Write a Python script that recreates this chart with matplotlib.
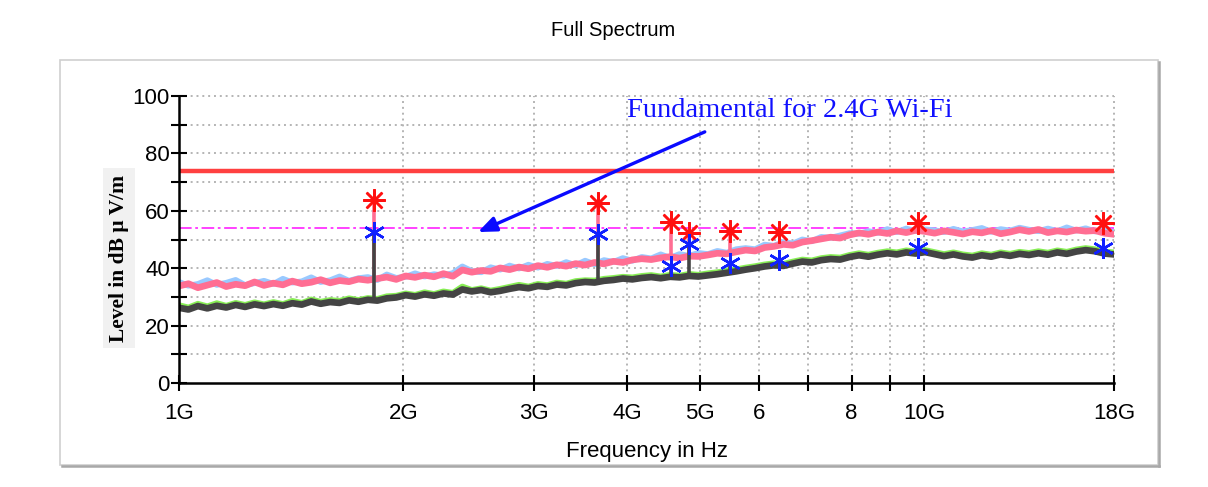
import numpy as np
import matplotlib
matplotlib.use('Agg')
import matplotlib.pyplot as plt
from matplotlib.patches import Rectangle
from matplotlib.lines import Line2D

# ---------------- data ----------------
freq_start_hz = 1e9
freq_stop_hz = 18e9

# peak trace (pink, horizontal) and its companion (light blue)
pink = [33.8, 34.6, 33.2, 34.1, 35.0, 33.6, 34.4, 33.9, 35.2, 34.0,
        34.8, 34.2, 35.5, 34.6, 35.1, 36.0, 34.9, 35.7, 35.3, 36.2,
        35.8, 36.4, 36.9, 36.1, 37.3, 36.8, 37.6, 37.0, 38.1, 37.2,
        39.4, 38.6, 39.2, 38.9, 40.1, 39.5, 40.4, 39.8, 40.9, 40.3,
        41.2, 40.7, 41.6, 41.1, 42.0, 41.5, 42.4, 42.0, 42.9, 43.3,
        43.0, 43.6, 44.0, 43.5, 44.2, 44.1, 44.6, 45.2, 45.0, 45.7,
        46.3, 46.0, 47.2, 47.6, 48.3, 48.0, 49.1, 49.6, 50.2, 50.8,
        50.5, 51.6, 52.3, 51.8, 52.6, 52.1, 53.0, 52.4, 53.2, 52.8,
        52.2, 53.0, 52.5, 51.9, 52.7, 52.3, 53.1, 52.0, 52.6, 53.4,
        52.8, 53.5, 52.4, 53.0, 52.6, 53.3, 52.9, 53.1, 52.2, 51.8]
light_blue = [35.2, 33.9, 34.5, 35.8, 34.2, 34.9, 35.9, 34.1, 34.8, 35.6,
              34.5, 36.3, 35.0, 35.4, 36.8, 35.2, 35.8, 37.1, 35.6, 36.5,
              36.9, 35.9, 37.8, 36.6, 37.0, 38.2, 37.1, 37.9, 37.4, 38.3,
              40.6, 39.0, 38.6, 40.3, 39.5, 40.9, 39.9, 41.2, 40.2, 41.5,
              40.8, 42.1, 41.0, 42.6, 41.4, 42.8, 42.2, 43.5, 42.6, 43.9,
              43.4, 44.8, 43.6, 44.9, 44.3, 45.3, 44.9, 46.0, 45.4, 46.6,
              47.0, 46.6, 48.2, 47.8, 49.1, 48.6, 50.0, 49.4, 50.9, 50.6,
              51.4, 52.2, 52.0, 52.9, 52.3, 53.6, 52.6, 53.8, 52.9, 53.5,
              53.2, 52.6, 53.7, 52.8, 53.3, 54.0, 52.7, 53.6, 53.1, 54.1,
              53.4, 52.9, 53.8, 52.9, 54.2, 53.1, 53.9, 52.8, 53.5, 52.4]

# average trace (dark grey) and its companion (green)
dark = [26.2, 25.6, 26.8, 26.0, 26.9, 26.3, 27.2, 26.5, 27.4, 26.8,
        27.5, 26.9, 27.8, 27.3, 28.4, 27.6, 28.2, 27.9, 28.8, 28.3,
        29.0, 28.7, 29.5, 29.8, 30.6, 30.1, 30.9, 30.4, 31.2, 30.8,
        32.6, 31.9, 32.4, 31.6, 32.1, 32.8, 33.4, 33.0, 33.8, 33.5,
        34.3, 34.0, 34.8, 35.2, 35.0, 35.6, 35.9, 36.4, 36.1, 36.6,
        36.9, 36.5, 37.0, 36.8, 37.3, 37.1, 37.5, 37.9, 38.4, 38.9,
        39.5, 40.0, 40.6, 41.0, 40.8, 41.6, 42.3, 42.0, 42.8, 43.2,
        43.0, 43.9, 44.5, 44.0, 44.7, 45.2, 44.8, 45.5, 45.1, 45.6,
        44.9, 44.2, 44.8, 44.1, 43.7, 44.5, 44.0, 44.8, 44.3, 45.0,
        44.6, 45.2, 44.7, 45.5, 45.0, 45.8, 46.3, 45.9, 45.1, 44.8]
green = [27.1, 26.3, 27.6, 26.7, 27.8, 26.9, 27.9, 27.2, 28.1, 27.4,
         28.2, 27.5, 28.6, 27.9, 29.1, 28.3, 28.9, 28.6, 29.5, 28.9,
         29.6, 29.3, 30.2, 30.4, 31.2, 30.7, 31.6, 31.0, 31.9, 31.4,
         33.6, 32.4, 33.0, 32.2, 32.8, 33.5, 34.2, 33.6, 34.5, 34.1,
         35.0, 34.6, 35.5, 35.8, 35.7, 36.3, 36.6, 37.0, 36.8, 37.3,
         37.6, 37.1, 37.7, 37.4, 38.0, 37.7, 38.2, 38.6, 39.1, 39.6,
         40.2, 40.7, 41.3, 41.7, 41.5, 42.3, 43.0, 42.7, 43.5, 43.9,
         43.7, 44.6, 45.2, 44.7, 45.4, 45.9, 45.5, 46.2, 45.8, 46.3,
         45.6, 44.9, 45.5, 44.8, 44.4, 45.2, 44.7, 45.5, 45.0, 45.7,
         45.3, 45.9, 45.4, 46.2, 45.7, 46.5, 47.0, 46.6, 45.8, 45.5]

# final measurement points (GHz) : peak (red) and average (blue)
mark_freq_ghz = [1.83, 3.65, 4.57, 4.84, 5.49, 6.39, 9.82, 17.4]
mark_peak = [63.9, 62.6, 56.2, 52.3, 52.8, 52.7, 55.8, 55.8]
mark_avg = [52.6, 51.9, 40.6, 48.4, 41.8, 42.8, 47.0, 47.0]

# narrow emission spikes within the traces
spike_freq_ghz = [1.83, 3.65, 4.57, 4.84, 5.49]
spike_pink_base = [36.0, 41.5, 44.0, 44.2, 45.0]
spike_pink_top = [63.9, 62.6, 56.2, 52.3, 52.8]
spike_dark_base = [29.0, 35.2, 36.8, 37.0, 38.0]
spike_dark_top = [52.6, 51.9, 40.6, 48.4, 42.0]

limit_level = 74
avg_limit_level = 54

x_ticks_ghz = [1, 2, 3, 4, 5, 6, 7, 8, 9, 10, 18]
x_tick_labels = ['1G', '2G', '3G', '4G', '5G', '6', '', '8', '', '10G', '18G']
y_ticks = [0, 10, 20, 30, 40, 50, 60, 70, 80, 90, 100]
y_tick_labels = ['0', '', '20', '', '40', '', '60', '', '80', '', '100']

# ---------------- figure ----------------
W, H = 1208, 487
fig = plt.figure(figsize=(W / 100, H / 100), dpi=100)
fig.patch.set_facecolor('white')

# outer frame
fx0, fy0, fx1, fy1 = 60, 60, 1158, 465
fig.add_artist(Rectangle((fx0 / W, 1 - fy1 / H), (fx1 - fx0) / W, (fy1 - fy0) / H,
                         transform=fig.transFigure, fill=False,
                         edgecolor='#cfcfcf', lw=1.2))
fig.add_artist(Line2D([(fx1 + 1) / W, (fx1 + 1) / W], [1 - (fy1 + 1) / H, 1 - (fy0 + 2) / H],
                      transform=fig.transFigure, color='#a8a8a8', lw=1.8))
fig.add_artist(Line2D([(fx0 + 2) / W, (fx1 + 1) / W], [1 - (fy1 + 1) / H, 1 - (fy1 + 1) / H],
                      transform=fig.transFigure, color='#a8a8a8', lw=1.8))

ax_l, ax_r, ax_t, ax_b = 179, 1114, 96, 383
ax = fig.add_axes([ax_l / W, 1 - ax_b / H, (ax_r - ax_l) / W, (ax_b - ax_t) / H])
ax.set_xscale('log')
ax.set_xlim(freq_start_hz, freq_stop_hz)
ax.set_ylim(0, 100)

freqs = np.geomspace(freq_start_hz, freq_stop_hz, len(pink))
ghz = 1e9

# grid
for yv in y_ticks[1:]:
    ax.axhline(yv, color='#b4b4b4', lw=1.4, ls=(0, (1, 2)), zorder=1, clip_on=False)
for xv in x_ticks_ghz[1:]:
    ax.axvline(xv * ghz, color='#b4b4b4', lw=1.4, ls=(0, (1, 2)), zorder=1, clip_on=False)

# limit lines
ax.axhline(limit_level, color='#ff4040', lw=3.2, zorder=2)
ax.axhline(avg_limit_level, color='#ff33ff', lw=1.3, ls=(0, (7, 2, 1.5, 2)), zorder=2)

# traces
ax.plot(freqs, light_blue, color='#99c9ff', lw=4.2, zorder=3)
ax.plot(freqs, pink, color='#ff6e93', lw=4.8, zorder=4)
ax.vlines([f * ghz for f in spike_freq_ghz], spike_pink_base, spike_pink_top,
          color='#ff6e93', lw=2.6, zorder=4)
ax.plot(freqs, green, color='#88ee55', lw=4.2, zorder=5)
ax.plot(freqs, dark, color='#444444', lw=4.8, zorder=6)
ax.vlines([f * ghz for f in spike_freq_ghz], spike_dark_base, spike_dark_top,
          color='#444444', lw=2.6, zorder=6)

# markers
mf = [f * ghz for f in mark_freq_ghz]
ax.plot(mf, mark_peak, ls='none', marker=(8, 2, 0), ms=16, mew=1.8, color='#ff1010', zorder=8)
ax.plot(mf, mark_avg, ls='none', marker=(6, 2, 0), ms=15, mew=1.8, color='#1020ff', zorder=8)

# annotation
ax.annotate('', xy=(2.52 * ghz, 52.6), xytext=(5.08 * ghz, 87.5),
            arrowprops=dict(arrowstyle='-|>,head_length=1.1,head_width=0.45',
                            color='#0a0aff', lw=2.4, shrinkA=0, shrinkB=0),
            zorder=9)
ax.text(3.99 * ghz, 92.6, 'Fundamental for 2.4G Wi-Fi', color='#1010ff',
        fontsize=20.5, family='Liberation Serif', va='baseline', ha='left', zorder=9)

# axes styling
for s in ['top', 'right']:
    ax.spines[s].set_visible(False)
for s in ['left', 'bottom']:
    ax.spines[s].set_linewidth(1.8)
    ax.spines[s].set_color('black')
    ax.spines[s].set_zorder(7)

ax.set_xticks([t * ghz for t in x_ticks_ghz])
ax.set_xticklabels(x_tick_labels)
ax.xaxis.set_minor_locator(matplotlib.ticker.NullLocator())
ax.set_yticks(y_ticks)
ax.set_yticklabels(y_tick_labels)
ax.tick_params(axis='both', direction='inout', length=11, width=1.5, color='black',
               labelsize=16)
ax.tick_params(axis='x', pad=9)
ax.tick_params(axis='y', pad=1)
for lab in ax.get_xticklabels() + ax.get_yticklabels():
    lab.set_family('Liberation Sans')

ax.set_xlabel('Frequency in Hz', fontsize=16, family='Liberation Sans', labelpad=12)

fig.text(613 / W, 1 - 31 / H, 'Full Spectrum', ha='center', va='center',
         fontsize=14.5, family='Liberation Sans')

fig.text(119 / W, 1 - 258 / H, 'Level in dB \u03bc V/m', rotation=90, ha='center', va='center',
         fontsize=15.5, family='Liberation Serif', fontweight='bold',
         bbox=dict(boxstyle='square,pad=0.3', facecolor='#f1f1f1', edgecolor='none'))

fig.savefig('out.png', dpi=100, facecolor='white')
